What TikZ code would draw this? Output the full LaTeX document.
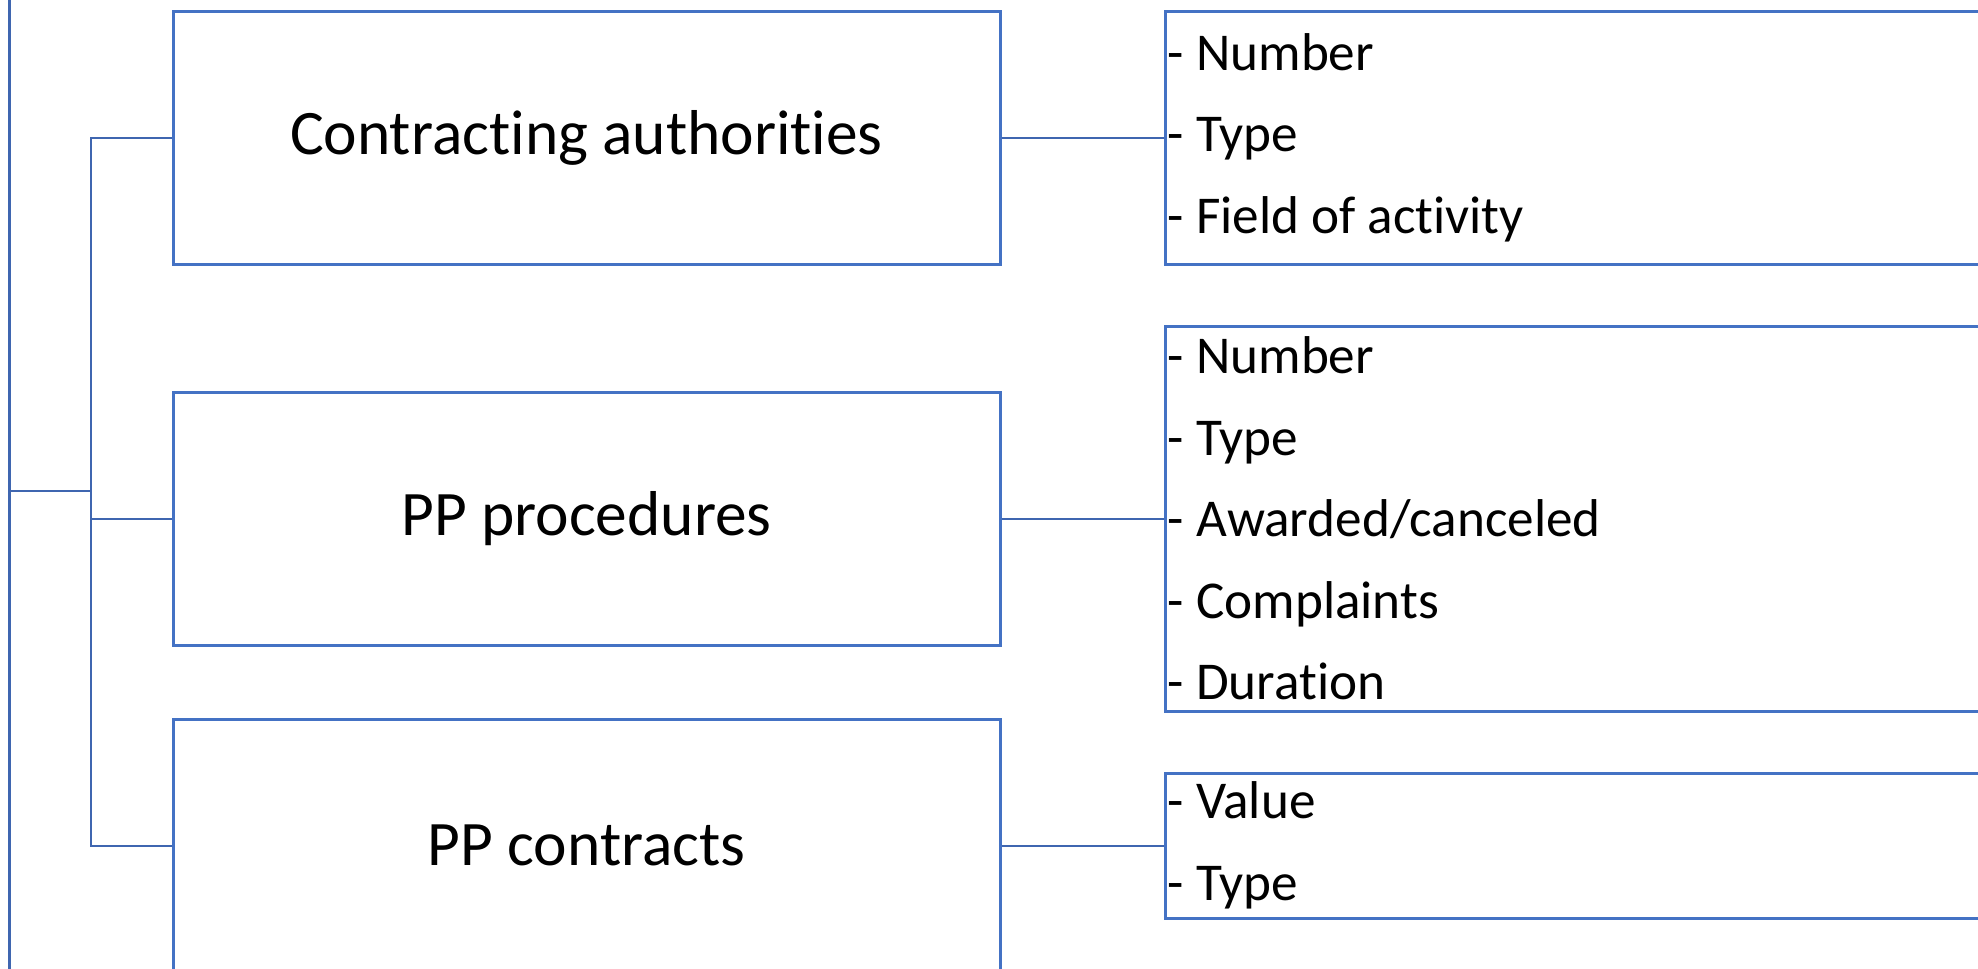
\documentclass[tikz,border=0pt]{standalone}
\usepackage{fontspec}
\setmainfont{Carlito}[Ligatures=NoCommon]
\usetikzlibrary{positioning}
\definecolor{boxblue}{HTML}{4472C4}
\definecolor{lineblue}{HTML}{3F66B0}
\tikzset{
  group/.style={draw=boxblue, line width=1.5pt, minimum width=413.5pt,
    minimum height=126.5pt, font=\fontsize{31.7}{38}\selectfont},
  attr/.style={draw=boxblue, line width=1.5pt, anchor=west, text width=465pt,
    inner xsep=1.2pt, align=left, font=\fontsize{26.6}{40.75}\selectfont,
    execute at begin node={\spaceskip=0pt\xspaceskip=0pt\relax}},
  link/.style={draw=lineblue, line width=1pt},
}

\begin{document}
\begin{tikzpicture}[x=0.5pt, y=-0.5pt]
\useasboundingbox (0,0) rectangle (1978,969);

% object boxes
\node[group] (auth) at (586.5,137.5) {Contracting authorities};
\node[group] (proc) at (586.5,518.5) {PP procedures};
\node[group] (contr) at (586.5,845.5) {PP contracts};

% indicator boxes
\node[attr, minimum height=126.5pt] (auth-ind) at (1164,137.5) {- Number\\- Type\\- Field of activity};
\node[attr, minimum height=192.5pt] (proc-ind) at (1164,518.5) {- Number\\- Type\\- Awarded/canceled\\- Complaints\\- Duration};
\node[attr, minimum height=72.5pt] (contr-ind) at (1164,845.5) {- Value\\- Type};

% tree
\coordinate (root-top) at (9,-20);
\coordinate (root-bot) at (9,1000);
\coordinate (root) at (9,491);
\coordinate (spine) at (91,491);
\draw[link, line width=1.5pt] (root-top) -- (root-bot);
\draw[link] (root) -- (spine);
\draw[link] (auth.west) -| (spine |- contr.west) -- (contr.west);
\draw[link] (spine |- proc.west) -- (proc.west);

\draw[link] (auth.east) -- (auth-ind.west);
\draw[link] (proc.east) -- (proc-ind.west);
\draw[link] (contr.east) -- (contr-ind.west);

\end{tikzpicture}
\end{document}
